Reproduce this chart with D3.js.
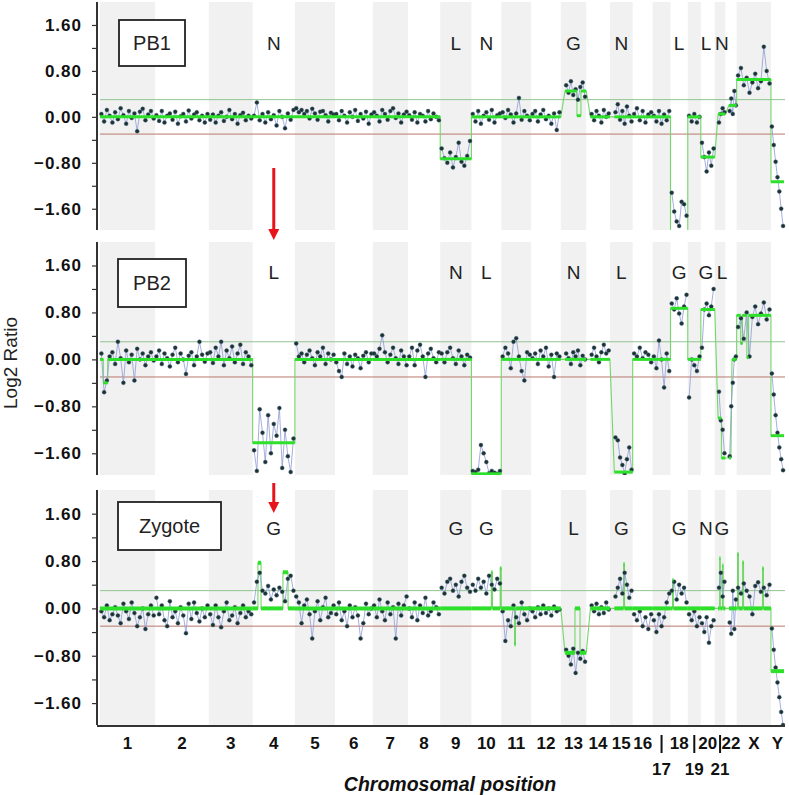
<!DOCTYPE html>
<html>
<head>
<meta charset="utf-8">
<script src="https://cdn.jsdelivr.net/npm/d3@7"></script>
<style>
  body { margin: 0; background: #fff; }
  svg text { font-family: "Liberation Sans", Arial, sans-serif; }
</style>
</head>
<body>
<div id="cgh-chart"></div>
<script>
// chromosome layout (Mb)
const chromNames = ["1","2","3","4","5","6","7","8","9","10","11","12","13","14","15","16","17","18","19","20","21","22","X","Y"];
const chromSizes = [249,243,198,191,181,171,159,146,141,135,135,134,115,107,103,90,81,78,59,63,48,51,155,59];
const chromFirstProbe = [0,0,0,0,0,0,0,0,0,0,0,0,19,19,20,0,0,0,0,0,15,16,0,0];
const lowerRowLabels = ["17","19","21"];

const yTickValues = [-1.6,-1.2,-0.8,-0.4,0,0.4,0.8,1.2,1.6];
const yTickLabels = [-1.6,-0.8,0,0.8,1.6];
const thresholds = [0.3,-0.3];

// PB1 log2 ratios, one list per chromosome
const pb1Points = [
  [0.05,-0.08,0.12,0.02,-0.1,0.08,-0.04,0.15,0.03,-0.12,0.1,-0.02,0.06,-0.25,0.09,0.14,-0.06,0.04,0.1,-0.03],
  [0.03,-0.07,0.1,-0.1,0.02,0.06,-0.05,0.09,-0.12,0.01,0.05,-0.08,0.11,-0.03,0.04,0.08,-0.06,0.02,-0.1,0.05],
  [-0.05,0.04,-0.1,0.02,0.08,-0.07,0.0,0.12,-0.04,0.05,-0.12,0.03,0.07,-0.06,0.02,-0.03],
  [0.02,0.25,-0.06,0.05,-0.1,0.08,-0.04,0.03,-0.15,0.1,0.0,-0.2,0.06,-0.05,0.12],
  [0.15,0.08,0.12,0.05,0.1,-0.03,0.14,0.06,-0.05,0.09,0.1,0.03,-0.08,0.07,0.04],
  [0.05,-0.06,0.1,0.02,-0.1,0.08,0.0,0.12,-0.07,0.05,-0.03,0.09,-0.12,0.04],
  [0.08,0.02,-0.08,0.12,0.05,-0.05,0.1,0.15,-0.02,0.06,-0.1,0.04,0.09],
  [0.03,-0.05,0.08,-0.1,0.05,0.02,-0.08,0.1,-0.04,0.06,0.0,-0.06],
  [-0.55,-0.72,-0.8,-0.62,-0.88,-0.7,-0.45,-0.78,-0.85,-0.68,-0.42],
  [0.05,-0.08,0.1,-0.12,0.02,0.08,-0.05,0.12,-0.1,0.03,0.06],
  [0.08,-0.02,0.12,0.04,-0.1,0.06,0.33,-0.05,0.1,0.02,-0.06],
  [0.05,0.1,-0.08,0.04,0.12,-0.04,0.02,-0.12,0.06,-0.23,0.08],
  [0.55,0.42,0.62,0.38,0.48,0.3,0.52,0.6,0.35],
  [0.05,-0.06,0.1,0.02,-0.1,0.12,0.0,0.06],
  [0.08,0.22,-0.05,0.1,-0.12,0.18,0.02,-0.08],
  [0.05,0.15,-0.06,0.1,-0.1,0.04,0.08],
  [0.02,-0.08,0.1,-0.12,0.04,-0.06,0.1],
  [-1.32,-1.65,-1.82,-1.9,-1.48,-1.52,-1.72],
  [0.02,-0.08,0.05,-0.1,0.0],
  [-0.45,-0.7,-0.95,-0.62,-0.85,-0.55],
  [-0.1,0.05,0.15,0.08],
  [0.1,0.32,0.05,0.45,0.2],
  [0.72,0.85,0.55,0.68,0.42,0.6,0.75,0.5,0.62,1.22,0.8,0.58],
  [-0.17,-0.49,-0.78,-1.05,-1.3,-1.6,-1.9]
];
// [chromosome, start Mb, end Mb, level]
const pb1Segments = [
  ["1",0,249,0],["2",0,243,0],["3",0,198,0],["4",0,191,0],["5",0,181,0],["6",0,171,0],
  ["7",0,159,0],["8",0,146,0],["9",0,141,-0.73],["10",0,135,0],["11",0,135,0],["12",0,134,0],
  ["13",19,73,0.45],["13",73,91,0.02],["13",91,115,0.45],["14",19,107,0],["15",20,103,0],
  ["16",0,90,0],["17",0,81,0],["18",0,78,-2.1],["19",0,59,0],["20",0,63,-0.7],
  ["21",15,48,0.05],["22",16,51,0.2],["X",0,155,0.65],["Y",0,59,-1.13]
];
const pb1Calls = [["4","N"],["9","L"],["10","N"],["13","G"],["15","N"],["18","L"],["20","L"],["21","N"]];

// PB2
const pb2Points = [
  [0.1,-0.56,-0.36,0.05,0.12,-0.08,0.3,0.02,-0.4,0.15,-0.05,0.08,-0.36,0.18,0.0,0.1,-0.1,0.05,0.12,-0.02],
  [0.05,0.15,-0.08,0.1,0.02,-0.12,0.08,0.2,-0.05,0.1,0.0,-0.25,0.06,0.12,-0.1,0.05,0.3,0.08,-0.04,0.1],
  [0.12,-0.06,0.2,0.05,0.3,-0.1,0.15,0.02,0.22,-0.05,0.1,0.25,-0.08,0.12,0.05,-0.1],
  [-1.55,-1.9,-0.85,-1.25,-1.75,-0.95,-1.6,-1.1,-1.3,-0.83,-1.85,-1.2,-1.65,-1.92,-1.35],
  [0.27,0.05,0.1,-0.05,0.08,0.15,0.02,-0.1,0.12,0.05,0.2,-0.08,0.1,0.0,0.08],
  [-0.05,-0.2,-0.3,0.1,-0.08,0.05,-0.12,0.08,0.02,-0.15,0.06,0.12,-0.05,0.1],
  [0.1,0.05,0.18,0.41,0.12,-0.05,0.08,0.2,0.02,-0.08,0.15,0.05,-0.1],
  [0.05,0.2,-0.1,0.15,0.25,0.05,-0.3,0.1,0.18,0.02,-0.05,0.12],
  [0.1,-0.05,0.12,0.2,0.02,-0.08,0.15,0.05,-0.1,0.08,0.03],
  [-1.9,-1.92,-1.88,-1.46,-1.6,-1.75,-1.94,-1.9,-1.93,-1.95,-1.9],
  [0.05,0.2,0.1,-0.15,0.3,0.36,0.05,-0.2,-0.36,0.12,0.08],
  [0.02,0.1,-0.08,0.15,0.05,0.2,-0.12,0.08,-0.3,0.1,0.05],
  [0.1,0.02,-0.08,0.12,0.05,0.15,-0.1,0.06,0.0],
  [0.08,0.2,0.05,-0.05,0.12,0.25,0.1,0.15],
  [-1.33,-1.38,-1.67,-1.8,-1.94,-1.7,-1.5,-1.88],
  [0.1,0.05,0.2,0.02,0.12,0.08,-0.05],
  [0.05,-0.15,0.32,0.0,-0.48,0.1,-0.2],
  [0.95,0.85,1.04,0.78,0.61,0.9,1.1],
  [-0.65,0.0,-0.1,-0.2,0.05],
  [0.2,0.85,0.95,0.75,0.9,1.2],
  [-0.55,-1.04,-1.2,-1.6],
  [-1.65,-0.8,-0.4,0.0,0.05],
  [0.55,0.7,0.35,0.8,0.05,0.72,0.9,0.6,0.78,0.97,0.68,0.85],
  [-0.24,-0.6,-0.95,-1.25,-1.5,-1.7,-1.89]
];
const pb2Segments = [
  ["1",0,15,0],["1",15,35,-0.4],["1",35,249,0],["2",0,243,0],["3",0,198,0],["4",0,191,-1.42],
  ["5",0,181,0],["6",0,171,0],["7",0,159,0],["8",0,146,0],["9",0,141,0],["10",0,135,-1.95],
  ["11",0,135,0],["12",0,134,0],["13",19,115,0],["14",19,107,0],["15",20,103,-1.92],
  ["16",0,90,0],["17",0,81,0],["18",0,78,0.87],["19",0,59,0],["20",0,63,0.85],
  ["21",15,30,-1.0],["21",30,48,-1.68],["22",16,25,-1.68],["22",30,51,0],
  ["X",0,18,0.75],["X",18,26,0.27],["X",26,46,0.75],["X",46,54,0.03],["X",54,155,0.75],["Y",0,59,-1.3]
];
const pb2Calls = [["4","L"],["9","N"],["10","L"],["13","N"],["15","L"],["18","G"],["20","G"],["21","L"]];

// Zygote
const zygotePoints = [
  [-0.05,-0.15,0.05,-0.2,-0.1,0.02,-0.12,-0.25,0.08,-0.05,-0.18,0.1,-0.08,-0.3,-0.15,0.0,-0.35,-0.1,0.05,-0.12],
  [0.18,-0.1,0.05,-0.2,-0.3,0.12,-0.15,-0.05,-0.25,0.02,-0.12,-0.42,0.08,-0.18,0.1,-0.08,-0.22,0.0,-0.15,0.05],
  [-0.1,-0.28,0.05,-0.15,-0.32,-0.05,0.1,-0.2,-0.12,0.02,-0.25,-0.08,0.05,-0.15,-0.05,-0.1],
  [0.1,0.45,0.6,0.3,0.25,0.38,0.15,0.32,0.22,0.35,0.28,0.12,0.5,0.55,0.3],
  [0.2,0.1,-0.25,0.05,0.15,-0.1,-0.51,-0.05,0.12,-0.2,0.02,0.18,-0.15,-0.08,0.05],
  [-0.1,0.1,-0.2,-0.05,-0.3,0.05,-0.15,0.02,-0.12,-0.51,-0.25,0.08,-0.1,0.0],
  [0.05,-0.15,0.15,-0.05,-0.2,0.1,-0.1,0.02,-0.51,0.08,-0.12,0.05,0.2],
  [0.0,-0.15,0.1,-0.2,0.05,-0.08,0.18,-0.12,-0.05,0.1,0.02,-0.1],
  [0.35,0.25,0.45,0.5,0.3,0.4,0.2,0.45,0.55,0.35,0.28],
  [0.4,0.3,0.5,0.35,0.45,0.25,0.55,0.4,0.32,0.5,0.42],
  [-0.05,-0.55,-0.2,-0.3,0.05,-0.15,-0.25,0.1,-0.1,-0.2,0.0],
  [-0.05,-0.15,0.02,-0.1,0.05,-0.08,0.0,-0.12,0.03,-0.05,-0.02],
  [-0.7,-0.8,-0.95,-0.68,-1.09,-0.75,-0.85,-0.72,-0.9],
  [0.05,-0.05,0.08,-0.1,0.02,-0.08,0.1,-0.02],
  [0.2,0.35,0.5,0.25,0.6,0.4,0.18,0.3],
  [-0.1,-0.2,-0.05,-0.3,-0.15,-0.35,-0.1],
  [-0.2,-0.4,-0.1,-0.3,-0.15,0.1,0.25],
  [0.3,0.45,0.15,0.4,0.25,0.35,0.1],
  [-0.1,-0.2,-0.05,-0.3,-0.15],
  [-0.25,-0.4,-0.15,-0.58,-0.3,-0.2],
  [0.35,0.6,0.2,0.45],
  [-0.24,-0.43,0.3,-0.35,0.15],
  [0.35,0.25,0.42,0.3,0.2,-0.1,0.38,0.44,0.28,0.35,0.22,0.4],
  [-0.34,-0.7,-1.0,-1.25,-1.5,-1.75,-2.0]
];
const zygoteSegments = [
  ["1",0,249,0],["2",0,243,0],["3",0,198,0],
  ["4",0,24,0],["4",24,38,0.77],["4",38,137,0],["4",137,160,0.61],["4",160,191,0],
  ["5",0,181,0],["6",0,171,0],["7",0,159,0],["8",0,146,0],["9",0,141,0],
  ["10",0,90,0],["10",90,95,0.61],["10",95,130,0],["10",130,135,0.68],
  ["11",0,60,0],["11",60,64,-0.61],["11",64,135,0],["12",0,134,0],
  ["13",19,64,-0.75],["13",64,87,0],["13",87,115,-0.75],["14",19,107,0],
  ["15",20,62,0],["15",62,66,0.75],["15",66,103,0],["16",0,90,0],["17",0,81,0],
  ["18",0,9,0],["18",9,13,0.48],["18",13,78,0],["19",0,59,0],["20",0,63,0],
  ["21",15,22,0],["21",22,25,0.85],["21",25,35,0],["21",35,38,0.73],["21",38,48,0],["22",16,51,0],
  ["X",0,4,0],["X",4,8,0.92],["X",8,27,0],["X",27,31,0.78],["X",31,117,0],["X",117,121,0.68],["X",121,155,0],
  ["Y",0,59,-1.06]
];
const zygoteCalls = [["4","G"],["9","G"],["10","G"],["13","L"],["15","G"],["18","G"],["20","N"],["21","G"]];

const panels = [
  { id: "pb1", name: "PB1", points: pb1Points, segments: pb1Segments, calls: pb1Calls,
    top: 2, bottom: 230, box: [119, 20, 66, 46], callY: 50, segWidth: 3 },
  { id: "pb2", name: "PB2", points: pb2Points, segments: pb2Segments, calls: pb2Calls,
    top: 242, bottom: 475, box: [118, 259, 68, 48], callY: 279, segWidth: 3 },
  { id: "zyg", name: "Zygote", points: zygotePoints, segments: zygoteSegments, calls: zygoteCalls,
    top: 490, bottom: 725, box: [118, 502, 103, 48], callY: 535, segWidth: 4 }
];

const width = 789;
const height = 795;
const plotLeft = 100;
const plotRight = 784;
const axisX = 97;

const svg = d3.select("#cgh-chart").append("svg")
  .attr("width", width).attr("height", height);

// genome offsets
const offsets = {};
let acc = 0;
chromNames.forEach((c, i) => { offsets[c] = acc; acc += chromSizes[i]; });
const genomeLength = acc;

const x = d3.scaleLinear().domain([0, genomeLength]).range([plotLeft, plotRight]);
const chromCenter = (c) => x(offsets[c] + chromSizes[chromNames.indexOf(c)] / 2);

const setUpPanel = (p) => {
  const y = d3.scaleLinear().domain([-1.97, 2.0]).range([p.bottom, p.top]);
  const yc = y.copy().clamp(true);
  const g = svg.append("g");

  svg.append("clipPath").attr("id", `clip-${p.id}`)
    .append("rect")
    .attr("x", plotLeft - 3).attr("y", p.top)
    .attr("width", plotRight - plotLeft + 6).attr("height", p.bottom - p.top);

  // alternating chromosome bands
  g.selectAll("rect.band")
    .data(chromNames.filter((c, i) => i % 2 === 0))
    .enter().append("rect")
    .attr("x", (c) => x(offsets[c]))
    .attr("width", (c) => x(offsets[c] + chromSizes[chromNames.indexOf(c)]) - x(offsets[c]))
    .attr("y", p.top)
    .attr("height", p.bottom - p.top)
    .attr("fill", "#f1f1f1");

  // threshold lines
  g.selectAll("line.thr")
    .data(thresholds)
    .enter().append("line")
    .attr("x1", plotLeft).attr("x2", plotRight + 1)
    .attr("y1", (d) => y(d)).attr("y2", (d) => y(d))
    .attr("stroke", (d) => (d > 0 ? "#92c492" : "#b9776b"))
    .attr("stroke-width", 1);

  const data = g.append("g").attr("clip-path", `url(#clip-${p.id})`);

  // segment step line (thin)
  const stepPts = [];
  p.segments.forEach((s) => {
    stepPts.push([offsets[s[0]] + s[1], s[3]]);
    stepPts.push([offsets[s[0]] + s[2], s[3]]);
  });
  data.append("path")
    .attr("d", d3.line().x((d) => x(d[0])).y((d) => y(d[1]))(stepPts))
    .attr("fill", "none")
    .attr("stroke", "#74d66a")
    .attr("stroke-width", 1.1);

  // probes
  const probeLine = d3.line().x((d) => x(d[0])).y((d) => yc(d[1]));
  const probes = [];
  p.points.forEach((vals, ci) => {
    const c = chromNames[ci];
    const first = chromFirstProbe[ci];
    const span = chromSizes[ci] - first;
    const pts = vals.map((v, i) => [offsets[c] + first + ((i + 0.5) / vals.length) * span, v]);
    data.append("path")
      .attr("d", probeLine(pts))
      .attr("fill", "none")
      .attr("stroke", "#8e9bd2")
      .attr("stroke-width", 0.8);
    pts.forEach((d) => probes.push(d));
  });
  data.selectAll("circle.probe")
    .data(probes)
    .enter().append("circle")
    .attr("cx", (d) => x(d[0]))
    .attr("cy", (d) => yc(d[1]))
    .attr("r", 2)
    .attr("fill", "#1b352e")
    .attr("stroke", "#4a5f8f")
    .attr("stroke-width", 0.4);

  // segment levels (thick)
  data.selectAll("line.seg")
    .data(p.segments)
    .enter().append("line")
    .attr("x1", (s) => x(offsets[s[0]] + s[1]))
    .attr("x2", (s) => x(offsets[s[0]] + s[2]))
    .attr("y1", (s) => y(s[3]))
    .attr("y2", (s) => y(s[3]))
    .attr("stroke", "#2de02a")
    .attr("stroke-width", p.segWidth);

  // y axis
  const yAxis = d3.axisLeft(y)
    .tickValues(yTickValues)
    .tickSize(5)
    .tickSizeOuter(0)
    .tickPadding(10)
    .tickFormat((d) => (yTickLabels.includes(d) ? d3.format(".2f")(d) : ""));
  const ax = g.append("g")
    .attr("transform", `translate(${axisX},0)`)
    .call(yAxis);
  ax.select(".domain").attr("stroke", "#333").attr("stroke-width", 2)
    .attr("d", `M0,${p.top}V${p.bottom}`);
  ax.selectAll(".tick line").attr("stroke", "#333").attr("stroke-width", 1.2);
  ax.selectAll(".tick text")
    .attr("font-family", '"Liberation Sans", Arial, sans-serif')
    .attr("font-size", 17)
    .attr("font-weight", "bold")
    .attr("letter-spacing", 1)
    .attr("fill", "#111");

  // sample label box
  g.append("rect")
    .attr("x", p.box[0]).attr("y", p.box[1])
    .attr("width", p.box[2]).attr("height", p.box[3])
    .attr("fill", "#fff").attr("stroke", "#222").attr("stroke-width", 1.8);
  g.append("text")
    .attr("x", p.box[0] + p.box[2] / 2)
    .attr("y", p.box[1] + p.box[3] / 2 + 7)
    .attr("text-anchor", "middle")
    .attr("font-size", 20)
    .attr("fill", "#222")
    .text(p.name);

  // copy number calls, pushed apart where neighbours crowd
  const callX = p.calls.map((d) => chromCenter(d[0]));
  for (let i = 1; i < callX.length; i++) {
    const gap = callX[i] - callX[i - 1];
    if (gap < 16) {
      callX[i - 1] -= (16 - gap) / 2;
      callX[i] += (16 - gap) / 2;
    }
  }
  g.selectAll("text.call")
    .data(p.calls)
    .enter().append("text")
    .attr("x", (d, i) => callX[i])
    .attr("y", p.callY)
    .attr("text-anchor", "middle")
    .attr("font-size", 19)
    .attr("fill", "#222")
    .text((d) => d[1]);

  return y;
};

panels.forEach((p) => setUpPanel(p));

// bottom x axis
const last = panels[panels.length - 1];
const xAxis = d3.axisBottom(x).tickValues([]).tickSizeOuter(0);
const xg = svg.append("g").attr("transform", `translate(0,${last.bottom + 1})`).call(xAxis);
xg.select(".domain").attr("stroke", "#333").attr("stroke-width", 2)
  .attr("d", `M${axisX},0H${plotRight + 1}`);

svg.selectAll("text.xlab")
  .data(chromNames.filter((c) => !lowerRowLabels.includes(c)))
  .enter().append("text")
  .attr("x", (c) => chromCenter(c))
  .attr("y", 749)
  .attr("text-anchor", "middle")
  .attr("font-size", 17)
  .attr("font-weight", "bold")
  .attr("fill", "#111")
  .text((c) => c);

svg.selectAll("line.xsep")
  .data(lowerRowLabels)
  .enter().append("line")
  .attr("x1", (c) => chromCenter(c)).attr("x2", (c) => chromCenter(c))
  .attr("y1", 735).attr("y2", 753)
  .attr("stroke", "#111").attr("stroke-width", 2);

svg.selectAll("text.xlab2")
  .data(lowerRowLabels)
  .enter().append("text")
  .attr("x", (c) => chromCenter(c))
  .attr("y", 775)
  .attr("text-anchor", "middle")
  .attr("font-size", 17)
  .attr("font-weight", "bold")
  .attr("fill", "#111")
  .text((c) => c);

// axis titles
svg.append("text")
  .attr("transform", "translate(17,363) rotate(-90)")
  .attr("text-anchor", "middle")
  .attr("font-size", 19)
  .attr("fill", "#222")
  .text("Log2 Ratio");

svg.append("text")
  .attr("x", 450).attr("y", 791)
  .attr("text-anchor", "middle")
  .attr("font-size", 19.5)
  .attr("font-weight", "bold")
  .attr("font-style", "italic")
  .attr("fill", "#111")
  .text("Chromosomal position");

// red arrows marking chromosome 4
const arrows = [[168, 240], [483, 513]];
const ax4 = chromCenter("4");
arrows.forEach(([y0, y1]) => {
  svg.append("line")
    .attr("x1", ax4).attr("x2", ax4)
    .attr("y1", y0).attr("y2", y1 - 9)
    .attr("stroke", "#e8141b").attr("stroke-width", 3);
  svg.append("path")
    .attr("d", `M${ax4 - 5.5},${y1 - 11}L${ax4 + 5.5},${y1 - 11}L${ax4},${y1}Z`)
    .attr("fill", "#e8141b");
});
</script>
</body>
</html>
